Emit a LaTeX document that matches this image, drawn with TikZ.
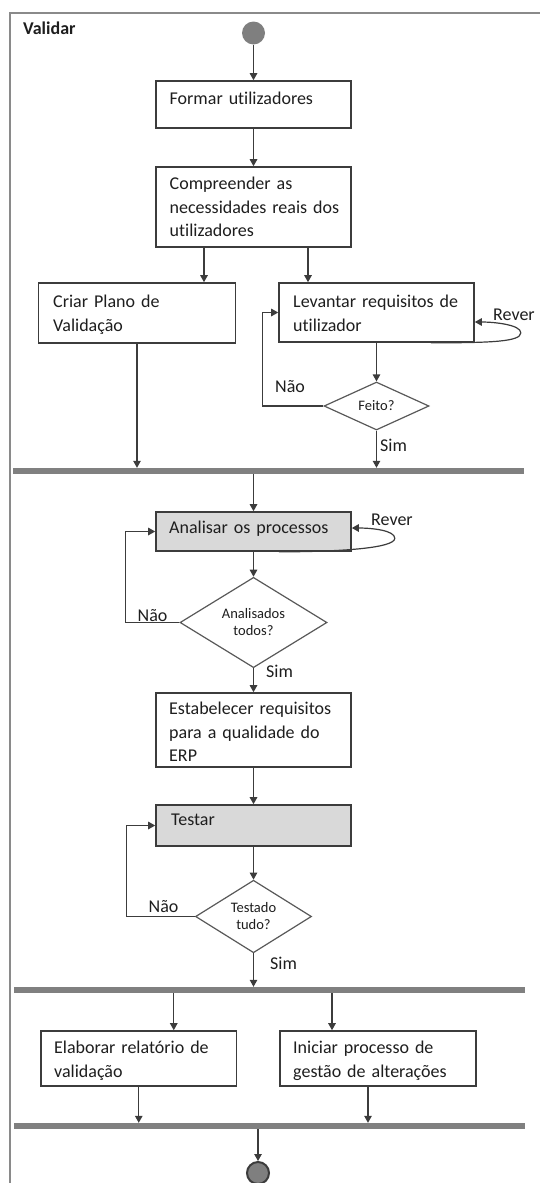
\documentclass[tikz,border=0pt]{standalone}
\usepackage{fontspec}
\setmainfont{Carlito}[Ligatures=NoCommon]
\usetikzlibrary{arrows.meta,shapes.geometric}

\definecolor{ink}{HTML}{3C3C3C}
\definecolor{txt}{HTML}{1E1E1E}
\definecolor{shade}{HTML}{D9D9D9}
\definecolor{barc}{HTML}{808080}
\definecolor{framec}{HTML}{8A8A8A}
\definecolor{dotc}{HTML}{7F7F7F}

\tikzset{
  plain/.style={font=\fontsize{18}{23.5}\selectfont, text=txt},
  activity/.style={draw=ink, line width=1.6pt, fill=white, inner sep=0pt, minimum width=195pt},
  busy/.style={activity, fill=shade},
  boxtext/.style={plain, inner sep=0pt, anchor=base west, text width=185pt, align=left},
  tag/.style={plain, inner sep=0pt, anchor=base west},
  choice/.style={diamond, draw=ink!85, line width=1.2pt, inner sep=0pt, fill=white,
    font=\fontsize{14.5}{17}\selectfont, text=txt, align=center},
  flow/.style={draw=ink, line width=1.2pt, -{Triangle[length=7pt,width=7.5pt]}},
  syncbar/.style={fill=barc, draw=none, inner sep=0pt, minimum width=511pt, minimum height=6pt},
  startdot/.style={circle, fill=dotc, draw=none, minimum size=23pt, inner sep=0pt},
  enddot/.style={circle, fill=dotc, draw=ink, line width=2pt, minimum size=22pt, inner sep=0pt},
}

\begin{document}
\begin{tikzpicture}[x=1pt,y=-1pt]
\useasboundingbox (0,0) rectangle (539,1183);

% swimlane frame
\draw[framec, line width=1.5pt] (10,1195) -- (10,13) -- (550,13);
\node[tag, font=\bfseries\fontsize{18}{23.5}\selectfont] (title) at (23,34.5) {Validar};

% activities
\node[startdot] (start) at (253.5,33) {};

\node[activity, minimum height=47pt] (formar) at (253.5,104.5) {};
\node[boxtext] (formarT) at (169.5,104.5) {Formar utilizadores};

\node[activity, minimum height=80pt] (compr) at (253.5,207) {};
\node[boxtext] (comprT) at (169.5,189.5) {Compreender as\\necessidades reais dos\\utilizadores};

\node[activity, minimum width=197pt, minimum height=60pt] (criar) at (137,313) {};
\node[boxtext] (criarT) at (53,307.5) {Criar Plano de\\Validação};

\node[activity, minimum height=59pt] (lev) at (376.5,312.5) {};
\node[boxtext] (levT) at (293,307.5) {Levantar requisitos de\\utilizador};

\node[choice, minimum width=105pt, minimum height=48pt] (feito) at (376.5,406) {Feito?};

\node[syncbar] (bar1) at (268.5,471) {};

\node[busy, minimum height=39pt] (anal) at (253.5,531.5) {};
\node[boxtext] (analT) at (169,533.5) {Analisar os processos};

\node[choice, minimum width=147pt, minimum height=65pt] (adiam) at (253.5,622.5) {Analisados\\todos?};

\node[activity, minimum height=74pt] (estab) at (253.5,730) {};
\node[boxtext] (estabT) at (169,714.5) {Estabelecer requisitos\\para a qualidade do\\ERP};

\node[busy, minimum height=41pt] (testar) at (253.5,825.5) {};
\node[boxtext] (testarT) at (171,825.5) {Testar};

\node[choice, minimum width=116pt, minimum height=63pt] (tdiam) at (253.5,916.5) {Testado\\tudo?};

\node[syncbar] (bar2) at (269,990) {};

\node[activity, minimum width=195.5pt, minimum height=55pt] (elab) at (138.75,1058.5) {};
\node[boxtext] (elabT) at (54,1053.5) {Elaborar relatório de\\validação};

\node[activity, minimum width=196pt, minimum height=55pt] (inic) at (378,1058.5) {};
\node[boxtext] (inicT) at (293,1053.5) {Iniciar processo de\\gestão de alterações};

\node[syncbar] (bar3) at (269,1126) {};

\node[enddot] (finish) at (258,1173) {};

% flow
\draw[flow] (start.south) -- (start.south |- formar.north);
\draw[flow] (formar.south) -- (compr.north);
\draw[flow] ([xshift=-49.5pt]compr.south) -- ([xshift=-49.5pt]compr.south |- criar.north);
\draw[flow] ([xshift=54.5pt]compr.south) -- ([xshift=54.5pt]compr.south |- lev.north);
\draw[flow] (criar.south) -- (criar.south |- bar1.north);
\draw[flow] (lev.south) -- (feito.north);
\draw[flow] (feito.south) -- (feito.south |- bar1.north);
\draw[flow] (feito.west) -| ([xshift=-16pt]lev.west) -- (lev.west);
\draw[flow] ([xshift=-44pt]lev.south east) .. controls +(60,0) and +(0,9) .. ++(90,-10)
  .. controls +(0,-8) and +(20,0) .. ([yshift=-9.5pt]lev.east);

\draw[flow] (anal.north |- bar1.south) -- (anal.north);
\draw[flow] (anal.south) -- (adiam.north);
\draw[flow] (adiam.west) -| ([xshift=-29.5pt]anal.west) -- (anal.west);
\draw[flow] ([xshift=-73pt]anal.south east) .. controls +(60,0) and +(0,10) .. ++(116,-13.5)
  .. controls +(0,-8) and +(20,0) .. ([yshift=3.5pt]anal.east);
\draw[flow] (adiam.south) -- (estab.north);
\draw[flow] (estab.south) -- (testar.north);
\draw[flow] (testar.south) -- (tdiam.north);
\draw[flow] (tdiam.west) -| ([xshift=-29pt]testar.west) -- (testar.west);
\draw[flow] (tdiam.south) -- (tdiam.south |- bar2.north);

\draw[flow] ([xshift=35pt]elab.north |- bar2.south) -- ([xshift=35pt]elab.north);
\draw[flow] ([xshift=-46pt]inic.north |- bar2.south) -- ([xshift=-46pt]inic.north);
\draw[flow] (elab.south) -- (elab.south |- bar3.north);
\draw[flow] ([xshift=-10pt]inic.south) -- ([xshift=-10pt]inic.south |- bar3.north);
\draw[flow] (finish.north |- bar3.south) -- (finish.north);

% guard labels
\node[tag] (lNao1) at (275,392.5) {Não};
\node[tag] (lSim1) at (380,451.5) {Sim};
\node[tag] (lRev1) at (493,320.5) {Rever};
\node[tag] (lNao2) at (137.5,621.5) {Não};
\node[tag] (lSim2) at (266,677.5) {Sim};
\node[tag] (lRev2) at (371,525.5) {Rever};
\node[tag] (lNao3) at (148.5,912.5) {Não};
\node[tag] (lSim3) at (270,969.5) {Sim};
\end{tikzpicture}
\end{document}
